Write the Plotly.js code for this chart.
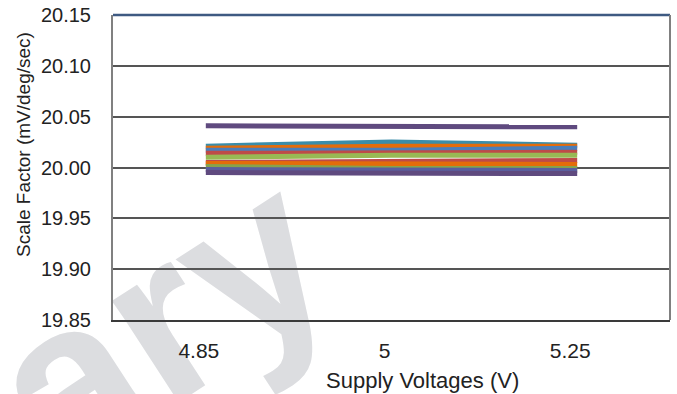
<!DOCTYPE html>
<html>
<head>
<meta charset="utf-8">
<script src="https://cdn.plot.ly/plotly-3.0.1.min.js"></script>
<style>
  html, body { margin: 0; padding: 0; background: #ffffff; }
  #chart { width: 677px; height: 394px; }
</style>
</head>
<body>
<div id="chart"></div>
<script>
// Supply voltage categories (V)
const voltages = ['4.85', '5', '5.25'];

// Scale factor (mV/deg/sec) per device at each supply voltage
const dev01 = [20.041, 20.041, 20.040];
const dev02 = [20.021, 20.025, 20.022];
const dev03 = [20.019, 20.021, 20.021];
const dev04 = [20.017, 20.017, 20.019];
const dev05 = [20.014, 20.015, 20.015];
const dev06 = [20.010, 20.012, 20.012];
const dev07 = [20.005, 20.006, 20.007];
const dev08 = [20.004, 20.004, 20.003];
const dev09 = [20.001, 19.999, 19.999];
const dev10 = [19.998, 19.998, 19.997];
const dev11 = [19.995, 19.995, 19.994];

const series = [dev01, dev02, dev03, dev04, dev05, dev06, dev07, dev08, dev09, dev10, dev11];
const colors = ['#5F4A7F', '#3A8DAA', '#E46C0A', '#4A7EBB', '#BE4B48', '#98B954',
                '#BE4B48', '#E46C0A', '#86A34C', '#5A5E9E', '#5F4A7F'];

const yTicks = [19.85, 19.90, 19.95, 20.00, 20.05, 20.10, 20.15];

const traces = series.map((vals, i) => ({
  type: 'scatter',
  mode: 'lines',
  x: voltages,
  y: vals,
  line: { color: colors[i], width: 5 },
  hoverinfo: 'skip',
  showlegend: false
}));

const font = 'Liberation Sans, Arial, Helvetica, sans-serif';
const ink = '#222222';

const layout = {
  width: 677,
  height: 394,
  margin: { l: 113, r: 7, t: 15, b: 74 },
  paper_bgcolor: '#ffffff',
  plot_bgcolor: 'rgba(0,0,0,0)',
  font: { family: font, size: 20, color: ink },
  xaxis: {
    type: 'category',
    range: [-0.5, 2.5],
    showgrid: false,
    zeroline: false,
    showline: true,
    linecolor: '#3a3a3a',
    linewidth: 2,
    ticks: '',
    ticklabelstandoff: 11,
    ticklabelshift: -7,
    tickfont: { size: 21, color: ink }
  },
  yaxis: {
    range: [19.85, 20.15],
    tickvals: yTicks,
    tickformat: '.2f',
    showgrid: true,
    gridcolor: '#555555',
    gridwidth: 2,
    zeroline: false,
    showline: true,
    linecolor: '#808080',
    linewidth: 2,
    ticks: '',
    ticklabelstandoff: 16,
    tickfont: { size: 20, color: ink }
  },
  annotations: [
    { xref: 'paper', yref: 'paper', x: (422 - 113) / 557, y: (320 - 380) / 305,
      xanchor: 'center', yanchor: 'middle', showarrow: false,
      text: 'Supply Voltages (V)', font: { size: 22, color: ink } },
    { xref: 'paper', yref: 'paper', x: (23 - 113) / 557, y: (320 - 145) / 305,
      xanchor: 'center', yanchor: 'middle', showarrow: false, textangle: -90,
      text: 'Scale Factor (mV/deg/sec)', font: { size: 19, color: ink } }
  ],
  shapes: [
    // frame: top edge and right edge
    { type: 'line', xref: 'paper', yref: 'paper', x0: 0, x1: 1, y0: 1, y1: 1,
      line: { color: '#3E5A82', width: 2.5 } },
    { type: 'line', xref: 'paper', yref: 'paper', x0: 1, x1: 1, y0: 0, y1: 1,
      line: { color: '#808080', width: 2 } },
    // "Preliminary" stamp laid beneath the grid and data
    { type: 'line', xref: 'paper', yref: 'paper', layer: 'below',
      x0: -0.923, y0: -1.108, x1: -0.320, y1: -0.393,
      line: { color: 'rgba(0,0,0,0)', width: 0 },
      label: { text: 'Preliminary', textposition: 'middle', textangle: -33,
               xanchor: 'center', yanchor: 'middle',
               font: { family: font, size: 230, weight: 'bold', color: '#DCDDE0' } } }
  ]
};

Plotly.newPlot('chart', traces, layout, { staticPlot: true, displayModeBar: false });
</script>
</body>
</html>
